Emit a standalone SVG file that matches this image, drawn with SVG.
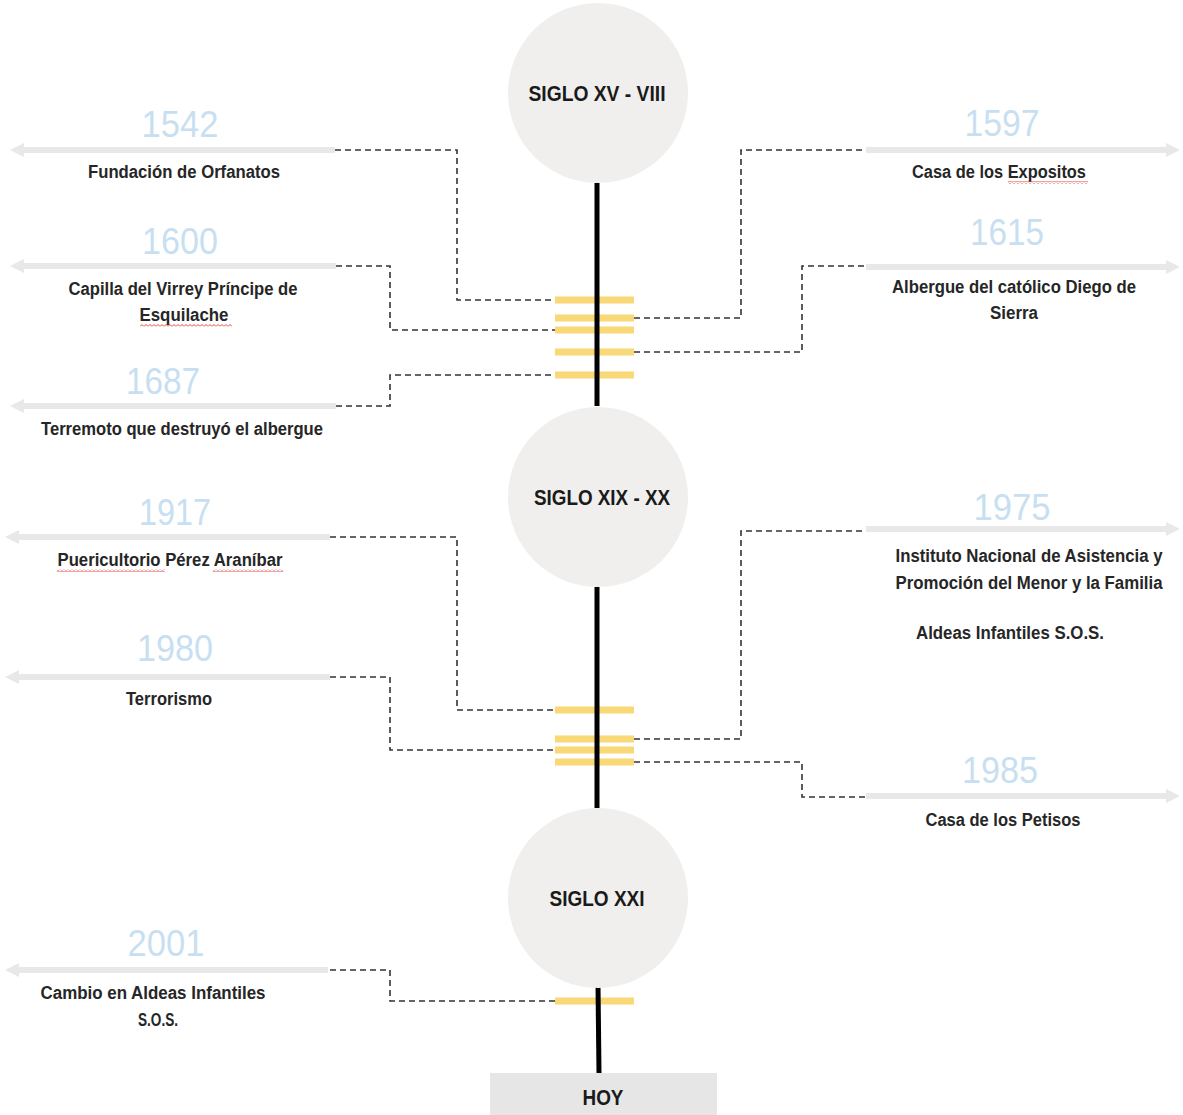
<svg xmlns="http://www.w3.org/2000/svg" width="1183" height="1115" viewBox="0 0 1183 1115">
<style>
.yr{font-family:"Liberation Sans",Arial,sans-serif;font-size:37px;fill:#c8dff2;text-anchor:middle}
.lb{font-family:"Liberation Sans",Arial,sans-serif;font-size:18px;font-weight:bold;fill:#262626;text-anchor:middle}
.ct{font-family:"Liberation Sans",Arial,sans-serif;font-size:22px;font-weight:bold;fill:#1a1a1a;text-anchor:middle}
.circ{fill:#f0efee}
.spine{stroke:#000;stroke-width:5}
.tick{stroke:#f8d877;stroke-width:7}
.dash{fill:none;stroke:#333;stroke-width:1.6;stroke-dasharray:6 4}
.arr{stroke:#e8e8e8;stroke-width:6;marker-end:url(#ah)}
.sq{fill:url(#wave)}
</style>
<defs>
<marker id="ah" viewBox="0 0 14 14" refX="6" refY="7" markerWidth="14" markerHeight="14" markerUnits="userSpaceOnUse" orient="auto">
<path d="M0,0 L14,7 L0,14 z" fill="#e8e8e8"/>
</marker>
<pattern id="wave" width="4" height="3" patternUnits="userSpaceOnUse">
<path d="M0,2.5 L2,0.5 L4,2.5" fill="none" stroke="#e03030" stroke-width="0.9"/>
</pattern>
</defs>
<rect width="1183" height="1115" fill="#fff"/>

<g id="connectors">
<line class="arr" x1="335" y1="150" x2="18" y2="150"/>
<line class="arr" x1="336" y1="266" x2="18" y2="266"/>
<line class="arr" x1="336" y1="406" x2="18" y2="406"/>
<line class="arr" x1="330" y1="537" x2="13" y2="537"/>
<line class="arr" x1="330" y1="677" x2="13" y2="677"/>
<line class="arr" x1="328" y1="970" x2="13" y2="970"/>
<line class="arr" x1="866" y1="150" x2="1172" y2="150"/>
<line class="arr" x1="866" y1="267" x2="1172" y2="267"/>
<line class="arr" x1="866" y1="529" x2="1172" y2="529"/>
<line class="arr" x1="866" y1="796" x2="1172" y2="796"/>

<path class="dash" d="M335,150 H457 V300 H555"/>
<path class="dash" d="M336,266 H390 V330 H555"/>
<path class="dash" d="M336,406 H390 V375 H555"/>
<path class="dash" d="M634,318 H741 V150 H866"/>
<path class="dash" d="M634,352 H802 V266 H866"/>
<path class="dash" d="M330,537 H457 V710 H555"/>
<path class="dash" d="M330,677 H390 V750 H555"/>
<path class="dash" d="M634,739 H741 V531 H866"/>
<path class="dash" d="M634,762 H802 V797 H866"/>
<path class="dash" d="M330,970 H390 V1001 H555"/>

<line class="tick" x1="555" y1="300" x2="634" y2="300"/>
<line class="tick" x1="555" y1="318" x2="634" y2="318"/>
<line class="tick" x1="555" y1="330" x2="634" y2="330"/>
<line class="tick" x1="555" y1="352" x2="634" y2="352"/>
<line class="tick" x1="555" y1="375" x2="634" y2="375"/>
<line class="tick" x1="555" y1="710" x2="634" y2="710"/>
<line class="tick" x1="555" y1="739" x2="634" y2="739"/>
<line class="tick" x1="555" y1="750" x2="634" y2="750"/>
<line class="tick" x1="555" y1="762" x2="634" y2="762"/>
<line class="tick" x1="555" y1="1001" x2="634" y2="1001"/>

<line class="spine" x1="597" y1="183" x2="597" y2="406"/>
<line class="spine" x1="597" y1="587" x2="597" y2="808"/>
<line class="spine" x1="598" y1="985" x2="599" y2="1073"/>
</g>

<g id="siglo-xv-viii">
<circle class="circ" cx="598" cy="93" r="90"/>
<text class="ct" x="597" y="101" textLength="137" lengthAdjust="spacingAndGlyphs">SIGLO XV - VIII</text>
</g>
<g id="siglo-xix-xx">
<circle class="circ" cx="598" cy="497" r="90"/>
<text class="ct" x="602" y="505" textLength="136" lengthAdjust="spacingAndGlyphs">SIGLO XIX - XX</text>
</g>
<g id="siglo-xxi">
<circle class="circ" cx="598" cy="898" r="90"/>
<text class="ct" x="597" y="906" textLength="95" lengthAdjust="spacingAndGlyphs">SIGLO XXI</text>
</g>
<g id="hoy">
<rect x="490" y="1073" width="227" height="42" fill="#e6e6e6"/>
<text class="ct" x="603" y="1105" textLength="41" lengthAdjust="spacingAndGlyphs">HOY</text>
</g>

<g id="e1542">
<text class="yr" x="180" y="137" textLength="77" lengthAdjust="spacingAndGlyphs">1542</text>
<text class="lb" x="184" y="178" textLength="192" lengthAdjust="spacingAndGlyphs">Fundación de Orfanatos</text>
</g>
<g id="e1600">
<text class="yr" x="180" y="254" textLength="76" lengthAdjust="spacingAndGlyphs">1600</text>
<text class="lb" x="183" y="295" textLength="229" lengthAdjust="spacingAndGlyphs">Capilla del Virrey Príncipe de</text>
<text class="lb" x="184" y="321" textLength="89" lengthAdjust="spacingAndGlyphs">Esquilache</text>
<rect class="sq" x="140" y="324" width="92" height="3"/>
</g>
<g id="e1687">
<text class="yr" x="163" y="394" textLength="74" lengthAdjust="spacingAndGlyphs">1687</text>
<text class="lb" x="182" y="435" textLength="282" lengthAdjust="spacingAndGlyphs">Terremoto que destruyó el albergue</text>
</g>
<g id="e1597">
<text class="yr" x="1002" y="136" textLength="75" lengthAdjust="spacingAndGlyphs">1597</text>
<text class="lb" x="999" y="178" textLength="174" lengthAdjust="spacingAndGlyphs">Casa de los Expositos</text>
<rect class="sq" x="1008" y="181" width="80" height="3"/>
</g>
<g id="e1615">
<text class="yr" x="1007" y="245" textLength="74" lengthAdjust="spacingAndGlyphs">1615</text>
<text class="lb" x="1014" y="293" textLength="244" lengthAdjust="spacingAndGlyphs">Albergue del católico Diego de</text>
<text class="lb" x="1014" y="319" textLength="48" lengthAdjust="spacingAndGlyphs">Sierra</text>
</g>
<g id="e1917">
<text class="yr" x="175" y="525" textLength="72" lengthAdjust="spacingAndGlyphs">1917</text>
<text class="lb" x="170" y="566" textLength="225" lengthAdjust="spacingAndGlyphs">Puericultorio Pérez Araníbar</text>
<rect class="sq" x="57" y="569" width="108" height="3"/>
<rect class="sq" x="213" y="569" width="70" height="3"/>
</g>
<g id="e1980">
<text class="yr" x="175" y="661" textLength="76" lengthAdjust="spacingAndGlyphs">1980</text>
<text class="lb" x="169" y="705" textLength="86" lengthAdjust="spacingAndGlyphs">Terrorismo</text>
</g>
<g id="e1975">
<text class="yr" x="1012" y="520" textLength="77" lengthAdjust="spacingAndGlyphs">1975</text>
<text class="lb" x="1029" y="562" textLength="267" lengthAdjust="spacingAndGlyphs">Instituto Nacional de Asistencia y</text>
<text class="lb" x="1029" y="589" textLength="267" lengthAdjust="spacingAndGlyphs">Promoción del Menor y la Familia</text>
<text class="lb" x="1010" y="639" textLength="188" lengthAdjust="spacingAndGlyphs">Aldeas Infantiles S.O.S.</text>
</g>
<g id="e1985">
<text class="yr" x="1000" y="783" textLength="76" lengthAdjust="spacingAndGlyphs">1985</text>
<text class="lb" x="1003" y="826" textLength="155" lengthAdjust="spacingAndGlyphs">Casa de los Petisos</text>
</g>
<g id="e2001">
<text class="yr" x="166" y="956" textLength="77" lengthAdjust="spacingAndGlyphs">2001</text>
<text class="lb" x="153" y="999" textLength="225" lengthAdjust="spacingAndGlyphs">Cambio en Aldeas Infantiles</text>
<text class="lb" x="158" y="1026" textLength="40" lengthAdjust="spacingAndGlyphs">S.O.S.</text>
</g>
</svg>
